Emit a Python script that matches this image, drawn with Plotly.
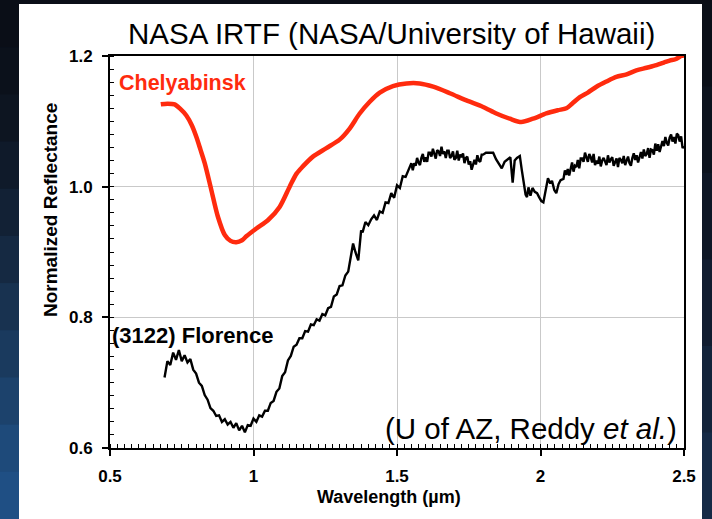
import plotly.graph_objects as go

# ---------------- data ----------------
chel_wl = [0.677, 0.700, 0.725, 0.745, 0.766, 0.785, 0.801, 0.815, 0.830, 0.853,
           0.876, 0.900, 0.920, 0.940, 0.960, 0.975, 1.010, 1.051, 1.091, 1.126,
           1.150, 1.172, 1.207, 1.254, 1.300, 1.335, 1.370, 1.405, 1.440, 1.486,
           1.533, 1.579, 1.626, 1.684, 1.742, 1.800, 1.846, 1.893, 1.933, 1.974,
           2.020, 2.060, 2.090, 2.110, 2.137, 2.165, 2.195, 2.230, 2.264, 2.300,
           2.334, 2.370, 2.404, 2.430, 2.450, 2.470, 2.490, 2.500]
chel_refl = [1.126, 1.127, 1.126, 1.119, 1.109, 1.094, 1.076, 1.057, 1.036, 0.995,
             0.954, 0.926, 0.917, 0.915, 0.918, 0.924, 0.936, 0.949, 0.969, 1.000,
             1.020, 1.031, 1.046, 1.059, 1.072, 1.089, 1.112, 1.130, 1.144, 1.154,
             1.158, 1.158, 1.153, 1.143, 1.132, 1.122, 1.112, 1.104, 1.099, 1.104,
             1.112, 1.117, 1.120, 1.127, 1.137, 1.144, 1.153, 1.161, 1.168, 1.172,
             1.178, 1.182, 1.186, 1.190, 1.193, 1.195, 1.200, 1.201]

flor_wl = [0.690, 0.700, 0.710, 0.720, 0.730, 0.740, 0.750, 0.760, 0.770, 0.780,
           0.790, 0.800, 0.810, 0.820, 0.830, 0.840, 0.850, 0.860, 0.870, 0.880,
           0.890, 0.900, 0.910, 0.920, 0.930, 0.940, 0.950, 0.960, 0.970, 0.980,
           0.990, 1.000, 1.010, 1.020, 1.030, 1.040, 1.050, 1.060, 1.070, 1.080,
           1.090, 1.100, 1.110, 1.120, 1.130, 1.140, 1.150, 1.160, 1.170, 1.180,
           1.190, 1.200, 1.210, 1.220, 1.230, 1.240, 1.250, 1.260, 1.270, 1.280,
           1.290, 1.300, 1.310, 1.320, 1.330, 1.340, 1.347, 1.355, 1.365, 1.375,
           1.380, 1.390, 1.400, 1.410, 1.420, 1.430, 1.440, 1.450, 1.460, 1.470,
           1.480, 1.490, 1.500, 1.510, 1.520, 1.530, 1.540,
           1.550, 1.555, 1.560, 1.565, 1.570, 1.575, 1.580, 1.585, 1.590, 1.595,
           1.600, 1.605, 1.610, 1.615, 1.620, 1.625, 1.630, 1.635, 1.640, 1.645,
           1.650, 1.655, 1.660, 1.665, 1.670, 1.675, 1.680, 1.685, 1.690, 1.695,
           1.700, 1.705, 1.710, 1.715, 1.720, 1.725, 1.730, 1.735, 1.740, 1.745,
           1.750, 1.755, 1.760, 1.765, 1.770, 1.775, 1.780, 1.785, 1.790, 1.795,
           1.800, 1.810, 1.820, 1.835, 1.845, 1.855, 1.865, 1.875,
           1.885, 1.895, 1.903, 1.910, 1.918, 1.928, 1.935, 1.942, 1.948, 1.953,
           1.958, 1.965, 1.972, 1.980, 1.988, 1.995, 2.003, 2.010, 2.018, 2.026,
           2.034, 2.040, 2.048, 2.055, 2.063, 2.070,
           2.080, 2.085, 2.090, 2.095, 2.100, 2.105, 2.110, 2.115, 2.120, 2.125,
           2.130, 2.135, 2.140, 2.145, 2.150, 2.155, 2.160, 2.165, 2.170, 2.175,
           2.180, 2.185, 2.190, 2.195, 2.200, 2.205, 2.210, 2.215, 2.220, 2.225,
           2.230, 2.235, 2.240, 2.245, 2.250, 2.255, 2.260, 2.265, 2.270, 2.275,
           2.280, 2.285, 2.290, 2.295, 2.300, 2.305, 2.310, 2.315, 2.320, 2.325,
           2.330, 2.335, 2.340, 2.345, 2.350, 2.355, 2.360, 2.365, 2.370, 2.375,
           2.380, 2.385, 2.390, 2.395, 2.400, 2.405, 2.410, 2.415, 2.420, 2.425,
           2.430, 2.435, 2.440, 2.445, 2.450, 2.455, 2.460, 2.465, 2.470, 2.475,
           2.480, 2.485, 2.490, 2.495, 2.500]
flor_refl = [0.708, 0.733, 0.727, 0.746, 0.735, 0.750, 0.733, 0.742, 0.731, 0.736,
             0.720, 0.714, 0.700, 0.695, 0.681, 0.674, 0.661, 0.657, 0.649, 0.650,
             0.640, 0.644, 0.636, 0.640, 0.631, 0.638, 0.627, 0.634, 0.624, 0.635,
             0.634, 0.645, 0.640, 0.650, 0.648, 0.657, 0.657, 0.669, 0.672, 0.686,
             0.691, 0.710, 0.716, 0.734, 0.741, 0.755, 0.758, 0.768, 0.768, 0.779,
             0.778, 0.789, 0.788, 0.797, 0.795, 0.805, 0.803, 0.814, 0.816, 0.832,
             0.835, 0.848, 0.849, 0.864, 0.870, 0.895, 0.913, 0.900, 0.887, 0.933,
             0.930, 0.946, 0.941, 0.950, 0.956, 0.949, 0.962, 0.960, 0.976, 0.975,
             0.990, 0.983, 1.002, 0.998, 1.016, 1.015, 1.027,
             1.036, 1.025, 1.036, 1.032, 1.044, 1.037, 1.033, 1.044, 1.050, 1.038,
             1.045, 1.038, 1.052, 1.052, 1.046, 1.058, 1.049, 1.043, 1.056, 1.054,
             1.047, 1.061, 1.050, 1.054, 1.044, 1.055, 1.055, 1.044, 1.047, 1.054,
             1.041, 1.044, 1.055, 1.040, 1.049, 1.045, 1.051, 1.036, 1.044, 1.046,
             1.034, 1.039, 1.026, 1.036, 1.041, 1.034, 1.048, 1.040, 1.038, 1.049,
             1.049, 1.052, 1.052, 1.052, 1.042, 1.034, 1.028, 1.038,
             1.042, 1.045, 1.006, 1.040, 1.044, 1.047, 1.025, 1.002, 0.988, 0.984,
             0.999, 0.986, 0.998, 0.992, 0.990, 0.984, 0.978, 0.976, 0.996, 1.013,
             1.005, 1.009, 0.995, 0.990, 1.004, 1.010,
             1.012, 1.025, 1.018, 1.027, 1.017, 1.030, 1.037, 1.023, 1.032, 1.030,
             1.041, 1.028, 1.043, 1.043, 1.038, 1.052, 1.045, 1.038, 1.050, 1.045,
             1.037, 1.050, 1.033, 1.040, 1.035, 1.046, 1.031, 1.040, 1.044, 1.037,
             1.033, 1.048, 1.037, 1.042, 1.045, 1.032, 1.039, 1.043, 1.030, 1.044,
             1.041, 1.036, 1.047, 1.033, 1.040, 1.046, 1.036, 1.032, 1.044, 1.051,
             1.041, 1.048, 1.037, 1.046, 1.053, 1.043, 1.057, 1.047, 1.050, 1.059,
             1.044, 1.057, 1.056, 1.049, 1.066, 1.055, 1.065, 1.053, 1.064, 1.070,
             1.062, 1.076, 1.067, 1.063, 1.075, 1.080, 1.069, 1.076, 1.066, 1.081,
             1.079, 1.069, 1.077, 1.059, 1.062]

x_ticks = [0.5, 1, 1.5, 2, 2.5]
x_tick_text = ["0.5", "1", "1.5", "2", "2.5"]
y_ticks = [0.6, 0.8, 1.0, 1.2]
y_tick_text = ["0.6", "0.8", "1.0", "1.2"]

title_text = "NASA IRTF (NASA/University of Hawaii)"
credit_text = "(U of AZ, Reddy <i>et al.</i>)"

# ---------------- layout geometry ----------------
W, H = 712, 519
L, R, T, B = 110, 28, 56, 71
PW, PH = W - L - R, H - T - B


def px(xp):
    return (xp - L) / PW


def py(yp):
    return (H - B - yp) / PH


RED = "#ff2b0e"
FONT = "Liberation Sans, Arial, sans-serif"

fig = go.Figure()
fig.add_trace(go.Scatter(x=chel_wl, y=chel_refl, mode="lines",
                         line=dict(color=RED, width=4.5, shape="spline", smoothing=0.8),
                         showlegend=False))
fig.add_trace(go.Scatter(x=flor_wl, y=flor_refl, mode="lines",
                         line=dict(color="black", width=2.4), showlegend=False))

axis_common = dict(showline=True, linecolor="black", linewidth=2, mirror=True,
                   ticks="outside", ticklen=6, tickwidth=1.5, tickcolor="black",
                   showgrid=True, gridcolor="#c9c9c9", gridwidth=1.3,
                   zeroline=False, ticklabelstandoff=6,
                   tickfont=dict(family=FONT, size=17, color="black", weight="bold"))

fig.update_xaxes(range=[0.5, 2.5], tickvals=x_ticks, ticktext=x_tick_text,
                 minor=dict(ticks="inside", ticklen=4, dtick=0.025, tick0=0.5,
                            tickcolor="black", tickwidth=1, showgrid=False),
                 **axis_common)
fig.update_yaxes(range=[0.6, 1.2], tickvals=y_ticks, ticktext=y_tick_text,
                 minor=dict(ticks="inside", ticklen=4, dtick=0.02, tick0=0.6,
                            tickcolor="black", tickwidth=1, showgrid=False),
                 **axis_common)

# dark slide border strips
shapes = []
left_cols = ["#0a0e17", "#0b111b", "#0d1521", "#0f1a2a", "#122135", "#152942",
             "#183250", "#1a3a5e", "#1c426c", "#1e4a7a", "#1f4f84"]
n = len(left_cols)
for i, c in enumerate(left_cols):
    shapes.append(dict(type="rect", xref="paper", yref="paper", layer="below",
                       x0=px(0), x1=px(19), y0=py(i * H / n), y1=py((i + 1) * H / n + 1),
                       fillcolor=c, line=dict(width=0)))
right_cols = ["#0a0f18", "#0c131e", "#0e1726", "#111d30", "#13243b", "#152a46"]
n2 = len(right_cols)
for i, c in enumerate(right_cols):
    shapes.append(dict(type="rect", xref="paper", yref="paper", layer="below",
                       x0=px(702), x1=px(W), y0=py(i * H / n2), y1=py((i + 1) * H / n2 + 1),
                       fillcolor=c, line=dict(width=0)))
shapes.append(dict(type="rect", xref="paper", yref="paper", layer="below",
                   x0=px(0), x1=px(W), y0=py(0), y1=py(4),
                   fillcolor="#0a0e17", line=dict(width=0)))

annotations = [
    dict(text=title_text, x=px(391), y=py(33), xref="paper", yref="paper",
         showarrow=False, xanchor="center", yanchor="middle",
         font=dict(family=FONT, size=29.5, color="black")),
    dict(text="Normalized Reflectance", x=px(50), y=py(210), xref="paper", yref="paper",
         showarrow=False, textangle=-90, xanchor="center", yanchor="middle",
         font=dict(family=FONT, size=19, color="black", weight="bold")),
    dict(text="Wavelength (µm)", x=px(389), y=py(497), xref="paper", yref="paper",
         showarrow=False, xanchor="center", yanchor="middle",
         font=dict(family=FONT, size=18, color="black", weight="bold")),
    dict(text="Chelyabinsk", x=px(182), y=py(83), xref="paper", yref="paper",
         showarrow=False, xanchor="center", yanchor="middle",
         font=dict(family=FONT, size=21.5, color=RED, weight="bold")),
    dict(text="(3122) Florence", x=px(192), y=py(335), xref="paper", yref="paper",
         showarrow=False, xanchor="center", yanchor="middle",
         font=dict(family=FONT, size=22, color="black", weight="bold")),
    dict(text=credit_text, x=px(679), y=py(428), xref="paper", yref="paper",
         showarrow=False, xanchor="right", yanchor="middle",
         font=dict(family=FONT, size=29.5, color="black")),
]

fig.update_layout(width=W, height=H, margin=dict(l=L, r=R, t=T, b=B, pad=0),
                  paper_bgcolor="white", plot_bgcolor="white",
                  shapes=shapes, annotations=annotations, showlegend=False)

fig.write_html("out.html", config={"displayModeBar": False},
               post_script="document.body.style.margin='0';document.body.style.padding='0';")
